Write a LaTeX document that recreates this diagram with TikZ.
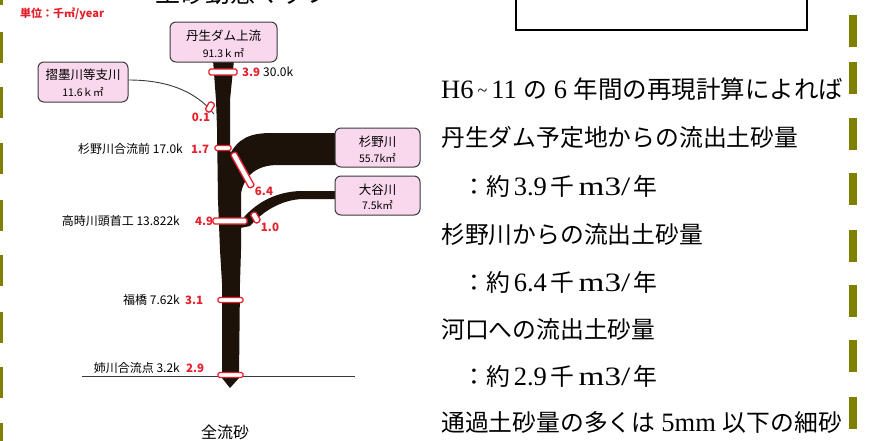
\documentclass[tikz,border=0pt]{standalone}
\usepackage{fontspec}
\usepackage{graphicx}
\newfontfamily\cjk{Noto Sans CJK JP}
\newfontfamily\lat{Liberation Serif}
\newcommand\latb{\lat\fontsize{26.5}{28}\selectfont}
\definecolor{boxpink}{HTML}{F9D8EE}
\definecolor{boxgray}{HTML}{3A3A3A}
\definecolor{myred}{HTML}{E4202C}
\definecolor{barolive}{HTML}{808000}
\definecolor{sand}{HTML}{1C120A}
\begin{document}
\begin{tikzpicture}[x=1pt,y=-1pt,
  box/.style={draw=boxgray, fill=boxpink, rounded corners=6pt, line width=1pt, inner sep=0pt},
  bt1/.style={font=\cjk\fontsize{12.5}{14}\selectfont, inner sep=0pt},
  bt2/.style={font=\cjk\fontsize{10.5}{12}\selectfont, inner sep=0pt},
  lbl/.style={font=\cjk\fontsize{12}{13}\selectfont, inner sep=0pt},
  num/.style={font=\cjk\bfseries\fontsize{11.5}{13}\selectfont, text=myred, inner sep=0pt},
  gauge/.style={draw=myred, fill=white, line width=1.3pt, rounded corners=1.5pt, minimum height=6pt, inner sep=0pt},
  rt/.style={font=\cjk\fontsize{23.8}{28}\selectfont, anchor=base west, inner sep=0pt},
  olivebar/.style={fill=barolive}]
\clip (0,0) rectangle (881,440);
\fill[white] (0,0) rectangle (881,440);

% side bars
\foreach \y in {-26,32,87,143,200,255,312,367,423} \fill[olivebar] (0,\y) rectangle (2.7,\y+31);
\foreach \y in {15,62,118,173,230,285,340,397} \fill[olivebar] (849,\y) rectangle (857,\y+32);

% title (cut by the edge, as in the reference) and top box
\node[font=\cjk\fontsize{25}{25}\selectfont, anchor=base, inner sep=0pt] (title) at (243,2.5) {土砂動態マップ};
\draw[line width=1.5pt] (516,-5) rectangle (807,30);

% unit
\node[font=\cjk\bfseries\fontsize{11}{12}\selectfont, text=myred, anchor=west, inner sep=0pt] (unit) at (20,14) {単位：千㎥/year};

% base line
\draw[boxgray, line width=0.9pt] (82,376) -- (355,376);

% main trunk
\fill[sand] (213,60) -- (234,60) -- (230,100) -- (230,150) -- (241,190) -- (241,250) -- (240,283) -- (239,378) -- (230,388) -- (222,378) -- (222,283) -- (220,250) -- (218,200) -- (217,127) -- (216,100) -- cycle;
% Sugino band
\fill[sand] (229,156) .. controls (238,138) and (250,133) .. (272,133) -- (340,133) -- (340,165) -- (278,165) .. controls (256,165) and (242,176) .. (240,200) -- (229,200) -- cycle;
% Ootani band
\fill[sand] (240,222) -- (245,216) .. controls (258,202) and (276,192) .. (300,191) -- (340,191) -- (340,199) -- (302,199) .. controls (282,200) and (264,210) .. (250,226) -- (240,228) -- cycle;

% boxes
\node[box, minimum width=107pt, minimum height=40pt] (tanjo) at (223.5,42) {};
\node[bt1] (tanjoA) at (223.5,36) {丹生ダム上流};
\node[bt2] (tanjoB) at (223.5,53) {91.3ｋ㎡};
\node[box, minimum width=90pt, minimum height=40pt] (suzumi) at (83,82) {};
\node[bt1] (suzumiA) at (83,75) {摺墨川等支川};
\node[bt2] (suzumiB) at (83,92) {11.6ｋ㎡};
\node[box, minimum width=85pt, minimum height=39pt] (sugino) at (377.5,147.5) {};
\node[bt1] (suginoA) at (377.5,142) {杉野川};
\node[bt2] (suginoB) at (377.5,158) {55.7k㎡};
\node[box, minimum width=85pt, minimum height=39pt] (ootani) at (377.5,195.5) {};
\node[bt1] (ootaniA) at (377.5,190) {大谷川};
\node[bt2] (ootaniB) at (377.5,205) {7.5k㎡};

% small tributary
\coordinate (suzumiEnd) at (214,114);
\draw[boxgray, line width=0.9pt] (suzumi.east |- 0,80) .. controls (165,80) and (195,90) .. (suzumiEnd);

% gauges
\node[gauge, minimum width=28pt] (g39) at (223,72) {};
\node[gauge, minimum width=10pt, rotate=60] (g01) at (210,107) {};
\node[gauge, minimum width=16pt, minimum height=5pt] (g17) at (223,148) {};
\node[gauge, minimum width=39pt, rotate=-61] (g64) at (242.5,170) {};
\node[gauge, minimum width=34pt] (g49) at (230,221) {};
\node[gauge, minimum width=11pt, rotate=-60] (g10) at (255.5,217.5) {};
\node[gauge, minimum width=25pt, minimum height=5pt] (g31) at (230.5,300) {};
\node[gauge, minimum width=25pt, minimum height=5pt] (g29) at (230.5,375) {};

% labels
\node[num, anchor=west] (n39) at (242,72) {3.9};
\node[lbl, anchor=west] (l30) at (263,72) {30.0k};
\node[num] (n01) at (201,117) {0.1};
\node[lbl, anchor=east] (l17) at (183,149) {杉野川合流前 17.0k};
\node[num, anchor=west] (n17) at (191,149) {1.7};
\node[num] (n64) at (264,191) {6.4};
\node[lbl, anchor=east] (l49) at (180,221) {高時川頭首工 13.822k};
\node[num, anchor=west] (n49) at (195,221) {4.9};
\node[num] (n10) at (270,227) {1.0};
\node[lbl, anchor=east] (l31) at (180,300) {福橋 7.62k};
\node[num, anchor=west] (n31) at (185,300) {3.1};
\node[lbl, anchor=east] (l29) at (180,368) {姉川合流点 3.2k};
\node[num, anchor=west] (n29) at (186,368) {2.9};
\node[font=\cjk\fontsize{16}{18}\selectfont, inner sep=0pt] (total) at (225,432) {全流砂};

% right text
\node[rt] (t1) at (441,98) {{\latb H6}\hspace{4pt}\raisebox{1.5pt}{\lat\fontsize{18}{18}\selectfont\textasciitilde}\hspace{4pt}{\latb 11}\hspace{6.6pt}の\hspace{6.6pt}{\latb 6}\hspace{6.6pt}{\fontsize{24.5}{28}\selectfont 年間の再現計算によれば}};
\node[rt] (t2) at (441,146) {丹生ダム予定地からの流出土砂量};
\node[rt] (t3) at (462,195) {：約\hspace{4pt}{\latb 3.9}\hspace{4pt}千\hspace{4pt}{\latb\scalebox{1.25}[1]{m3/}}\hspace{3pt}年};
\node[rt] (t4) at (441,243) {杉野川からの流出土砂量};
\node[rt] (t5) at (462,291) {：約\hspace{4pt}{\latb 6.4}\hspace{4pt}千\hspace{4pt}{\latb\scalebox{1.25}[1]{m3/}}\hspace{3pt}年};
\node[rt] (t6) at (441,338) {河口への流出土砂量};
\node[rt] (t7) at (462,385) {：約\hspace{4pt}{\latb 2.9}\hspace{4pt}千\hspace{4pt}{\latb\scalebox{1.25}[1]{m3/}}\hspace{3pt}年};
\node[rt] (t8) at (441,431) {通過土砂量の多くは\hspace{6pt}{\latb 5mm}\hspace{7pt}以下の細砂};
\end{tikzpicture}
\end{document}
